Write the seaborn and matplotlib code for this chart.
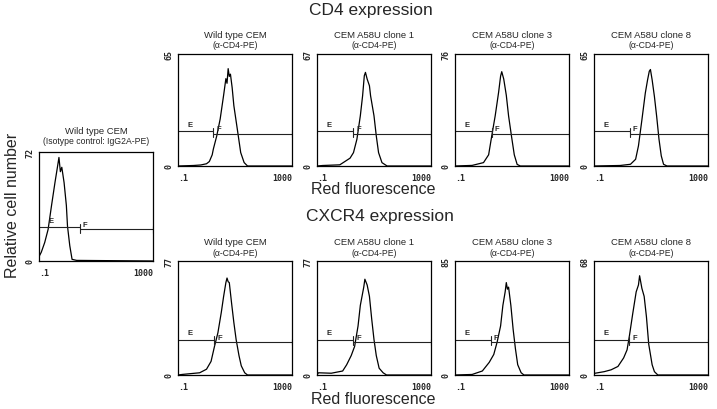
import numpy as np
import matplotlib
matplotlib.use("Agg")
import matplotlib.pyplot as plt
import matplotlib.ticker as mticker
import seaborn as sns

# histogram traces: log10(red fluorescence) and cell counts
iso_log = [-1.0, -0.92, -0.8, -0.68, -0.56, -0.44, -0.36, -0.3, -0.25, -0.2, -0.12, -0.04, 0.0, 0.08, 0.16, 0.32, 2.99]
iso_cnt = [2.9, 5.8, 12.2, 20.9, 36.7, 51.8, 61.2, 68.4, 59, 61.9, 51.8, 36.7, 23, 10.1, 1.1, 0.4, 0]

cd4_log = [
    [-1.0, -0.45, -0.2, 0.0, 0.1, 0.2, 0.24, 0.36, 0.48, 0.6, 0.68, 0.72, 0.76, 0.8, 0.84, 0.9, 0.96, 1.08, 1.2, 1.32, 1.44, 2.99],
    [-1.0, -0.8, -0.2, 0.16, 0.28, 0.4, 0.52, 0.6, 0.66, 0.7, 0.76, 0.84, 0.88, 1.0, 1.08, 1.16, 1.28, 1.46, 2.99],
    [-1.0, -0.4, 0.0, 0.18, 0.29, 0.41, 0.53, 0.6, 0.64, 0.71, 0.8, 0.88, 0.98, 1.08, 1.18, 1.29, 2.99],
    [-1.0, -0.08, 0.28, 0.46, 0.56, 0.68, 0.8, 0.88, 0.94, 0.98, 1.04, 1.12, 1.2, 1.28, 1.36, 1.44, 1.56, 2.99],
]
cd4_cnt = [
    [0, 0.3, 0.6, 1.3, 2.6, 6.5, 9.8, 17.5, 27.3, 41, 50.7, 48, 56.5, 52, 53.3, 45.5, 35, 21.5, 7.8, 2, 0, 0],
    [0, 0.3, 0.7, 4.7, 8, 16, 30, 42, 54, 56, 52, 48, 42, 30, 18, 8, 2, 0, 0],
    [0, 0.4, 2.3, 7.6, 20.5, 34, 50, 61, 64, 59, 48, 34, 20.5, 7.6, 1.1, 0, 0],
    [0, 0.3, 1, 3.9, 11.7, 26.7, 42.3, 50, 55, 56, 50, 40.3, 28.6, 15.6, 5.9, 1, 0, 0],
]
cxcr4_log = [
    [-1.0, -0.84, -0.24, 0.0, 0.16, 0.28, 0.4, 0.52, 0.6, 0.68, 0.72, 0.76, 0.8, 0.88, 0.96, 1.04, 1.14, 1.22, 1.34, 1.44, 2.99],
    [-1.0, -0.95, -0.5, -0.1, 0.04, 0.2, 0.32, 0.44, 0.52, 0.64, 0.68, 0.76, 0.84, 0.92, 1.0, 1.08, 1.18, 1.32, 1.44, 2.99],
    [-1.0, -0.4, -0.04, 0.2, 0.36, 0.48, 0.6, 0.68, 0.76, 0.8, 0.84, 0.88, 0.96, 1.04, 1.12, 1.2, 1.32, 1.42, 2.99],
    [-1.0, -0.98, -0.64, -0.4, -0.16, 0.04, 0.16, 0.24, 0.36, 0.48, 0.56, 0.6, 0.68, 0.76, 0.84, 0.92, 1.04, 1.12, 1.24, 2.99],
]
cxcr4_cnt = [
    [0, 0.4, 1.5, 3.9, 9.2, 19.3, 28.5, 42.4, 53, 62.4, 65.5, 63, 62.4, 48.5, 35.4, 23.9, 13.1, 6.2, 1.5, 0, 0],
    [0, 1.5, 1.2, 2.7, 6.9, 13.1, 19.3, 33.1, 47, 59.3, 64.7, 60.8, 53.1, 37.7, 23.9, 13.1, 4.6, 1.5, 0, 0],
    [0, 0.4, 3, 9.4, 15.3, 24.7, 36.6, 51.9, 62, 68.9, 64, 65.5, 51.9, 34, 19.6, 7.7, 1.7, 0, 0],
    [0, 1, 2, 3.1, 5.1, 10.2, 15, 23.1, 36.7, 49.6, 53.7, 59.2, 51.7, 46.9, 34.7, 18.4, 6.1, 2, 0, 0],
]

titles = ["Wild type CEM", "CEM A58U clone 1", "CEM A58U clone 3", "CEM A58U clone 8"]
subtitle = "(\u03b1-CD4-PE)"
cd4_ymax = [65, 67, 76, 65]
cxcr4_ymax = [77, 77, 85, 68]
cd4_gate = [0.24, 0.28, 0.29, 0.26]     # E/F boundary, log10 units
cxcr4_gate = [0.28, 0.28, 0.26, 0.24]
iso_ymax = 72
iso_gate = 0.43

sns.set_style("white")
plt.rcParams["font.family"] = ["Liberation Sans", "DejaVu Sans"]

fig = plt.figure(figsize=(7.17, 4.10), dpi=100)
W, H = 717, 410


def add_ax(x0, y0, x1, y1):
    return fig.add_axes([x0 / W, 1 - y1 / H, (x1 - x0) / W, (y1 - y0) / H])


def draw_panel(ax, logv, cnt, ymax, gate):
    sns.lineplot(x=10.0 ** np.array(logv), y=cnt, ax=ax, color="black",
                 lw=0.9, estimator=None, sort=False)
    ax.set_xscale("log")
    ax.set_xlim(0.1, 1000)
    ax.set_ylim(0, ymax)
    # E / F gate markers
    ye, yf = 0.31 * ymax, 0.29 * ymax
    g = 10 ** gate
    ax.plot([0.1, g], [ye, ye], color="#222222", lw=0.8)
    ax.plot([g, 10 ** 2.985], [yf, yf], color="#222222", lw=0.8)
    ax.plot([g, g], [yf - 0.03 * ymax, ye + 0.03 * ymax], color="#222222", lw=0.8)
    ax.plot([10 ** 2.985] * 2, [yf - 0.03 * ymax, yf + 0.03 * ymax], color="#222222", lw=0.8)
    ax.text(10 ** -0.65, ye + 0.03 * ymax, "E", fontsize=5.5, fontweight="bold", va="bottom")
    ax.text(g * 1.25, yf + 0.01 * ymax, "F", fontsize=5.5, fontweight="bold", va="bottom")

    ax.xaxis.set_major_locator(mticker.FixedLocator([0.1, 1, 10, 100, 1000]))
    ax.xaxis.set_major_formatter(mticker.FixedFormatter([".1", "", "", "", "1000"]))
    ax.xaxis.set_minor_locator(mticker.LogLocator(base=10, subs=range(2, 10)))
    ax.xaxis.set_minor_formatter(mticker.NullFormatter())
    ax.set_yticks([0, ymax / 4, ymax / 2, 3 * ymax / 4, ymax])
    ax.set_yticklabels(["0", "", "", "", str(ymax)], rotation=90, va="center")
    ax.tick_params(axis="x", which="major", direction="inout", length=4, width=0.8, pad=3)
    ax.tick_params(axis="x", which="minor", direction="inout", length=2.5, width=0.6)
    ax.tick_params(axis="y", direction="out", length=2.5, width=0.8, pad=1)
    for lab in ax.get_xticklabels() + ax.get_yticklabels():
        lab.set_fontfamily("DejaVu Sans Mono")
        lab.set_fontweight("bold")
        lab.set_fontsize(6)
    xl = ax.get_xticklabels()
    xl[0].set_horizontalalignment("left")
    xl[-1].set_horizontalalignment("right")
    for s in ax.spines.values():
        s.set_color("black")
        s.set_linewidth(0.9)
    ax.set_xlabel("")
    ax.set_ylabel("")


# isotype control panel
ax = add_ax(39, 153, 153, 262)
draw_panel(ax, iso_log, iso_cnt, iso_ymax, iso_gate)
fig.text(96 / W, 1 - 132 / H, "Wild type CEM", ha="center", va="center", fontsize=6.8)
fig.text(96 / W, 1 - 142 / H, "(Isotype control: IgG2A-PE)", ha="center", va="center", fontsize=6.2)

lefts = [178, 317, 455, 594]
for i in range(4):
    ax = add_ax(lefts[i], 55, lefts[i] + 114, 167)
    draw_panel(ax, cd4_log[i], cd4_cnt[i], cd4_ymax[i], cd4_gate[i])
    cx = lefts[i] + 57
    fig.text(cx / W, 1 - 35 / H, titles[i], ha="center", va="center", fontsize=6.8)
    fig.text(cx / W, 1 - 46 / H, subtitle, ha="center", va="center", fontsize=6.2)

    ax = add_ax(lefts[i], 262, lefts[i] + 114, 376)
    draw_panel(ax, cxcr4_log[i], cxcr4_cnt[i], cxcr4_ymax[i], cxcr4_gate[i])
    fig.text(cx / W, 1 - 243 / H, titles[i], ha="center", va="center", fontsize=6.8)
    fig.text(cx / W, 1 - 254 / H, subtitle, ha="center", va="center", fontsize=6.2)

fig.text(371 / W, 1 - 10 / H, "CD4 expression", ha="center", va="center", fontsize=12.5)
fig.text(380 / W, 1 - 217 / H, "CXCR4 expression", ha="center", va="center", fontsize=12.5)
fig.text(373 / W, 1 - 190 / H, "Red fluorescence", ha="center", va="center", fontsize=11.5)
fig.text(373 / W, 1 - 400 / H, "Red fluorescence", ha="center", va="center", fontsize=11.5)
fig.text(13 / W, 1 - 205 / H, "Relative cell number", ha="center", va="center",
         fontsize=11.5, rotation=90)

fig.savefig("out.png", dpi=100)
